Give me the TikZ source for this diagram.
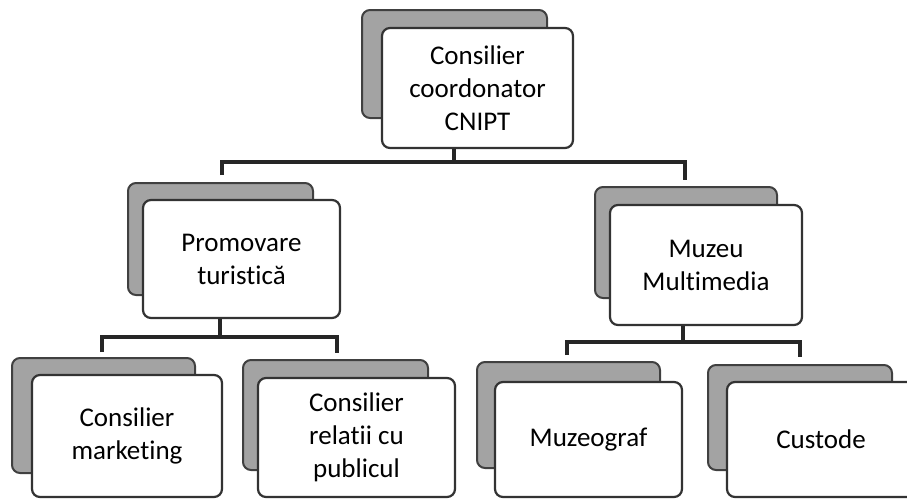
\documentclass[tikz,border=0pt]{standalone}
\usepackage{fontspec}
\setmainfont{Carlito}[Ligatures={NoCommon}]
\tikzset{
  box/.style={draw=black!80, line width=2.2pt, rounded corners=8pt, fill=white,
    align=center, inner sep=0pt, font=\fontsize{27}{33}\selectfont},
  backbox/.style={draw=black!75, line width=2pt, rounded corners=8pt, fill=gray!72,
    inner sep=0pt},
  link/.style={draw=black!85, line width=3.5pt}
}
\begin{document}
\begin{tikzpicture}[x=1pt,y=-1pt]
  \useasboundingbox (0,0) rectangle (907,501);
  \clip (0,0) rectangle (907,501);

  % Back boxes (shaded)
  \node[backbox, minimum width=185pt, minimum height=108pt] (topsh) at (454.5,64) {};
  \node[backbox, minimum width=185pt, minimum height=112pt] (promsh) at (220.5,239) {};
  \node[backbox, minimum width=182pt, minimum height=111pt] (muzsh) at (686,242.5) {};
  \node[backbox, minimum width=183pt, minimum height=115pt] (mktsh) at (103.5,415.5) {};
  \node[backbox, minimum width=185pt, minimum height=110pt] (relsh) at (335.5,415) {};
  \node[backbox, minimum width=183pt, minimum height=106pt] (grafsh) at (568.5,415) {};
  \node[backbox, minimum width=184pt, minimum height=105pt] (custsh) at (800,417.5) {};

  % Front boxes
  \node[box, minimum width=191pt, minimum height=120pt] (top) at (477.5,88) {Consilier\\coordonator\\CNIPT};
  \node[box, minimum width=197pt, minimum height=118pt] (prom) at (241.5,259) {Promovare\\turistică};
  \node[box, minimum width=192pt, minimum height=120pt] (muz) at (706,265) {Muzeu\\Multimedia};
  \node[box, minimum width=190pt, minimum height=122pt] (mkt) at (127,436) {Consilier\\marketing};
  \node[box, minimum width=197pt, minimum height=119pt] (rel) at (356.5,437.5) {Consilier\\relatii cu\\publicul};
  \node[box, minimum width=187pt, minimum height=115pt] (graf) at (588.5,439.5) {Muzeograf};
  \node[box, minimum width=188pt, minimum height=115pt] (cust) at (821,439.5) {Custode};

  % Bus under the top box
  \coordinate (topbus) at (454,162);
  \coordinate (promdrop) at (222,175);
  \coordinate (muzdrop) at (685,180);
  \draw[link] (top.south -| topbus) -- (topbus);
  \draw[link] (promdrop) |- (topbus) -| (muzdrop);

  % Bus under Promovare turistica
  \coordinate (prombus) at (220,337);
  \coordinate (mktdrop) at (102,352);
  \coordinate (reldrop) at (337,353);
  \draw[link] (prom.south -| prombus) -- (prombus);
  \draw[link] (mktdrop) |- (prombus) -| (reldrop);

  % Bus under Muzeu Multimedia
  \coordinate (muzbus) at (683,342);
  \coordinate (grafdrop) at (567,355);
  \coordinate (custdrop) at (800,357);
  \draw[link] (muz.south -| muzbus) -- (muzbus);
  \draw[link] (grafdrop) |- (muzbus) -| (custdrop);
\end{tikzpicture}
\end{document}
